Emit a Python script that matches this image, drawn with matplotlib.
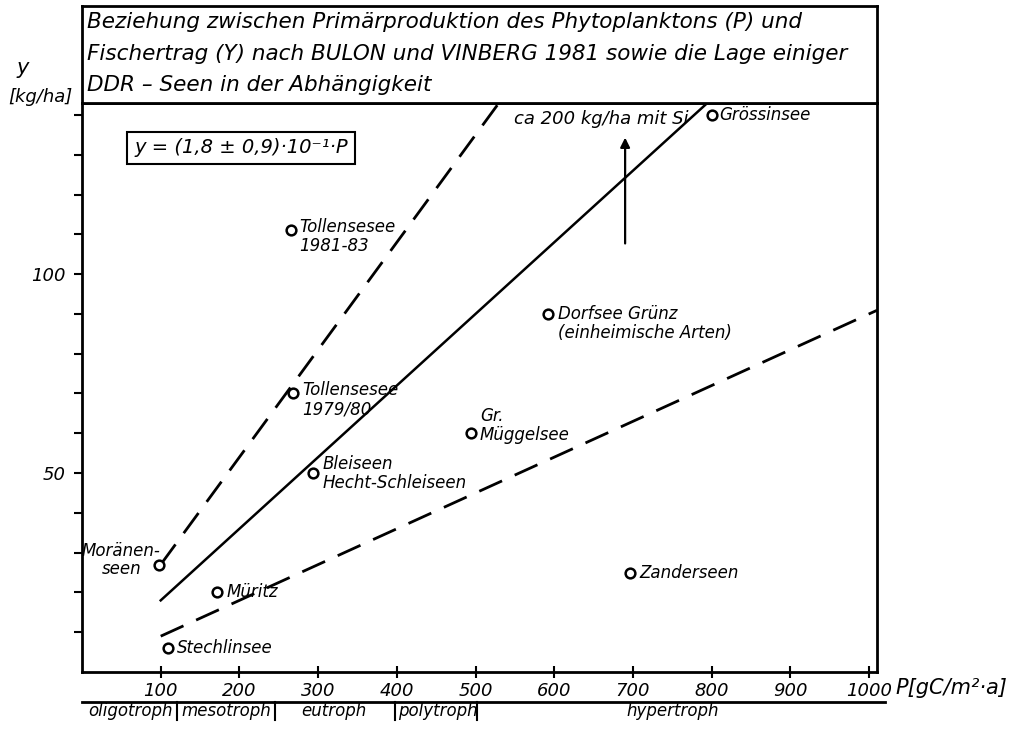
import numpy as np
import matplotlib
matplotlib.use("Agg")
import matplotlib.pyplot as plt

plt.rcParams['font.family'] = ['DejaVu Sans']
plt.rcParams['font.style'] = 'italic'

# lakes: primary production P [gC/m2 a] and fish yield Y [kg/ha]
lake_names = ["Tollensesee\n1981-83", "Tollensesee\n1979/80", "Bleiseen\nHecht-Schleiseen",
              "Moränen-\nseen", "Müritz", "Stechlinsee", "Gr.\nMüggelsee",
              "Dorfsee Grünz\n(einheimische Arten)", "Zanderseen", "Grössinsee"]
lake_P = [265, 268, 294, 98, 171, 109, 494, 592, 696, 800]
lake_Y = [111, 70, 50, 27, 20, 6, 60, 90, 25, 140]
# label offsets in pixels and alignment
lab_off = [(9, 12), (9, 12), (9, 18), (-38, 23), (10, 0), (9, 0), (9, 8), (10, 9), (10, 0), (8, 0)]
lab_ha = ["left", "left", "left", "center", "left", "left", "left", "left", "left", "left"]
lab_va = ["top", "top", "top", "top", "center", "center", "center", "top", "center", "center"]

# Y = (1.8 +- 0.9) * 10^-1 * P
slope_mid = 0.18
slope_hi = 0.27
slope_lo = 0.09
P_start = 100

x_ticks = [100, 200, 300, 400, 500, 600, 700, 800, 900, 1000]
y_ticks = [10, 20, 30, 40, 50, 60, 70, 80, 90, 100, 110, 120, 130, 140]
y_labels = ["" if v not in (50, 100) else str(v) for v in y_ticks]

troph_names = ["oligotroph", "mesotroph", "eutroph", "polytroph", "hypertroph"]
troph_pos = [62, 183, 320, 452, 750]
troph_marks = [121, 245, 398, 502]

title_lines = ["Beziehung zwischen Primärproduktion des Phytoplanktons (P) und",
               "Fischertrag (Y) nach BULON und VINBERG 1981 sowie die Lage einiger",
               "DDR – Seen in der Abhängigkeit"]

W, H = 1013, 733
fig = plt.figure(figsize=(W / 100, H / 100), dpi=100)
L, R, B, T = 82, 877, 672, 103
ax = fig.add_axes([L / W, 1 - B / H, (R - L) / W, (B - T) / H])
ax.set_xlim(0, 1010)
ax.set_ylim(0, 143)
for s in ax.spines.values():
    s.set_linewidth(2)

# lines
xmax_mid = 143 / slope_mid
xmax_hi = 143 / slope_hi
ax.plot([P_start, xmax_mid], [slope_mid * P_start, 143], color='black', lw=1.8, clip_on=False)
ax.plot([P_start, xmax_hi], [slope_hi * P_start, 143], color='black', lw=2,
        dashes=(9, 5), clip_on=False)
ax.plot([P_start, 1010], [slope_lo * P_start, slope_lo * 1010], color='black', lw=2,
        dashes=(9, 5), clip_on=False)

# lakes
ax.plot(lake_P, lake_Y, 'o', mfc='white', mec='black', ms=7, mew=1.8)
for i, name in enumerate(lake_names):
    ax.annotate(name, (lake_P[i], lake_Y[i]), xytext=lab_off[i], textcoords='offset pixels',
                ha=lab_ha[i], va=lab_va[i], fontsize=12, linespacing=1.05)

# arrow to ca 200 kg/ha
ax.annotate("", xy=(690, 135), xytext=(690, 107),
            arrowprops=dict(arrowstyle='-|>', color='black', lw=1.6, mutation_scale=14))
ax.text(660, 139, "ca 200 kg/ha mit Si", ha='center', va='center', fontsize=13)

# equation box
ax.text(202, 131.7, "y = (1,8 ± 0,9)·10⁻¹·P", ha='center', va='center', fontsize=14,
        bbox=dict(boxstyle='square,pad=0.35', fc='white', ec='black', lw=1.5))

# ticks
ax.set_xticks(x_ticks)
ax.set_xticklabels([str(v) for v in x_ticks], fontsize=13)
ax.set_yticks(y_ticks)
ax.set_yticklabels(y_labels, fontsize=13)
ax.tick_params(axis='x', direction='inout', length=8, width=1.5, pad=3)
ax.tick_params(axis='y', direction='out', length=6, width=1.5, pad=6)

ax.text(1033, -0.028, "P[gC/m²·a]", transform=ax.get_xaxis_transform(),
        ha='left', va='center', fontsize=15)
ax.text(-0.075, 1.062, "y", transform=ax.transAxes, ha='center', va='center', fontsize=15)
ax.text(-0.052, 1.010, "[kg/ha]", transform=ax.transAxes, ha='center', va='center', fontsize=13)

# trophic scale
tr = ax.get_xaxis_transform()
ax.plot([0, 1020], [-0.053, -0.053], color='black', lw=2, transform=tr, clip_on=False)
for m in troph_marks:
    ax.plot([m, m], [-0.053, -0.085], color='black', lw=1.5, transform=tr, clip_on=False)
for name, p in zip(troph_names, troph_pos):
    ax.text(p, -0.069, name, transform=tr, ha='center', va='center', fontsize=12)

# title box
tax = fig.add_axes([L / W, 1 - T / H, (R - L) / W, (T - 6) / H])
tax.set_xticks([])
tax.set_yticks([])
for s in tax.spines.values():
    s.set_linewidth(2)
for i, line in enumerate(title_lines):
    tax.text(0.006, 0.83 - i * 0.32, line, transform=tax.transAxes, ha='left', va='center',
             fontsize=15.5)

fig.savefig("out.png", dpi=100)
